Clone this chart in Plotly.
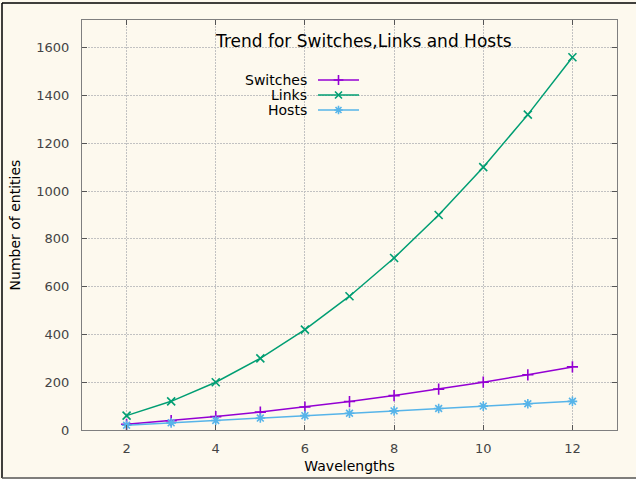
import plotly.graph_objects as go

# Network size vs. number of wavelengths
wavelengths = [2, 3, 4, 5, 6, 7, 8, 9, 10, 11, 12]
switches = [24, 39, 56, 75, 96, 119, 144, 171, 200, 231, 264]
links = [60, 120, 200, 300, 420, 560, 720, 900, 1100, 1320, 1560]
hosts = [20, 30, 40, 50, 60, 70, 80, 90, 100, 110, 120]

series_names = ["Switches", "Links", "Hosts"]
series_colors = ["#9400d3", "#009e73", "#56b4e9"]
series_symbols = ["cross-thin", "x-thin", "asterisk"]
series_values = [switches, links, hosts]

BG = "#fdf9ee"
FONT = "DejaVu Sans"

W, H = 636, 479
ML, MR, MT, MB = 82, 19, 20, 49
PW, PH = W - ML - MR, H - MT - MB


def px_to_paper(x_px, y_px):
    return (x_px - ML) / PW, (H - MB - y_px) / PH


fig = go.Figure()

for name, color, sym, vals in zip(series_names, series_colors, series_symbols, series_values):
    fig.add_trace(go.Scatter(
        x=wavelengths, y=vals, name=name, mode="lines+markers",
        line=dict(color=color, width=1.5),
        marker=dict(symbol=sym, size=8, color=color, line=dict(color=color, width=1.6)),
        showlegend=False,
    ))

# Key in the gnuplot style: right-aligned labels with line samples to their right
key_rows_y = [80, 95, 110]
annotations = []
for i, (name, color, sym) in enumerate(zip(series_names, series_colors, series_symbols)):
    ty = key_rows_y[i]
    tx, tyy = px_to_paper(309, ty)
    annotations.append(dict(
        x=tx, y=tyy, xref="paper", yref="paper", text=name, showarrow=False,
        xanchor="right", yanchor="middle", font=dict(family=FONT, size=14, color="#000000"),
    ))
    x0, yk = px_to_paper(318, ty)
    x1, _ = px_to_paper(359, ty)
    xm, _ = px_to_paper(338.5, ty)
    fig.add_trace(go.Scatter(
        x=[x0, x1], y=[yk, yk], xaxis="x2", yaxis="y2", mode="lines",
        line=dict(color=color, width=1.5), showlegend=False, hoverinfo="skip",
    ))
    fig.add_trace(go.Scatter(
        x=[xm], y=[yk], xaxis="x2", yaxis="y2", mode="markers",
        marker=dict(symbol=sym, size=7, color=color, line=dict(color=color, width=1.6)),
        showlegend=False, hoverinfo="skip",
    ))

# Title inside the plot area
tx, tyy = px_to_paper(363, 41)
annotations.append(dict(
    x=tx, y=tyy, xref="paper", yref="paper", text="Trend for Switches,Links and Hosts",
    showarrow=False, xanchor="center", yanchor="middle",
    font=dict(family=FONT, size=17, color="#000000"),
))

# Outer frame of the canvas
fl, ft = px_to_paper(2, 3)
fr, fb = px_to_paper(640, 478)
shapes = [
    dict(type="line", xref="paper", yref="paper", x0=fl, x1=fl, y0=fb, y1=ft,
         line=dict(color="#000000", width=1.5)),
    dict(type="line", xref="paper", yref="paper", x0=fl, x1=fr, y0=ft, y1=ft,
         line=dict(color="#000000", width=1.5)),
    dict(type="line", xref="paper", yref="paper", x0=fl, x1=fr, y0=fb, y1=fb,
         line=dict(color="#555555", width=1.5)),
]

axis_common = dict(
    showline=True, linecolor="#7f7f7f", linewidth=1.3, mirror="allticks",
    ticks="inside", ticklen=5, tickcolor="#555555", tickwidth=1,
    showgrid=True, gridcolor="#c2c2c2", griddash="1.5px,1.5px", gridwidth=1,
    zeroline=False, tickfont=dict(family=FONT, size=13, color="#444444"),
    automargin=False,
)

fig.update_layout(
    width=W, height=H,
    margin=dict(l=ML, r=MR, t=MT, b=MB),
    paper_bgcolor=BG, plot_bgcolor=BG,
    font=dict(family=FONT),
    xaxis=dict(range=[1, 13], tickvals=[2, 4, 6, 8, 10, 12], ticklabelstandoff=6,
               title=dict(text="Wavelengths", font=dict(family=FONT, size=14, color="#000000"),
                          standoff=6),
               **axis_common),
    yaxis=dict(range=[0, 1716], tickvals=[0, 200, 400, 600, 800, 1000, 1200, 1400, 1600],
               ticklabelstandoff=9,
               title=dict(text="Number of entities", font=dict(family=FONT, size=14, color="#000000"),
                          standoff=12),
               **axis_common),
    xaxis2=dict(range=[0, 1], overlaying="x", visible=False, fixedrange=True),
    yaxis2=dict(range=[0, 1], overlaying="y", visible=False, fixedrange=True),
    annotations=annotations,
    shapes=shapes,
    showlegend=False,
)

fig.write_html("out.html")
